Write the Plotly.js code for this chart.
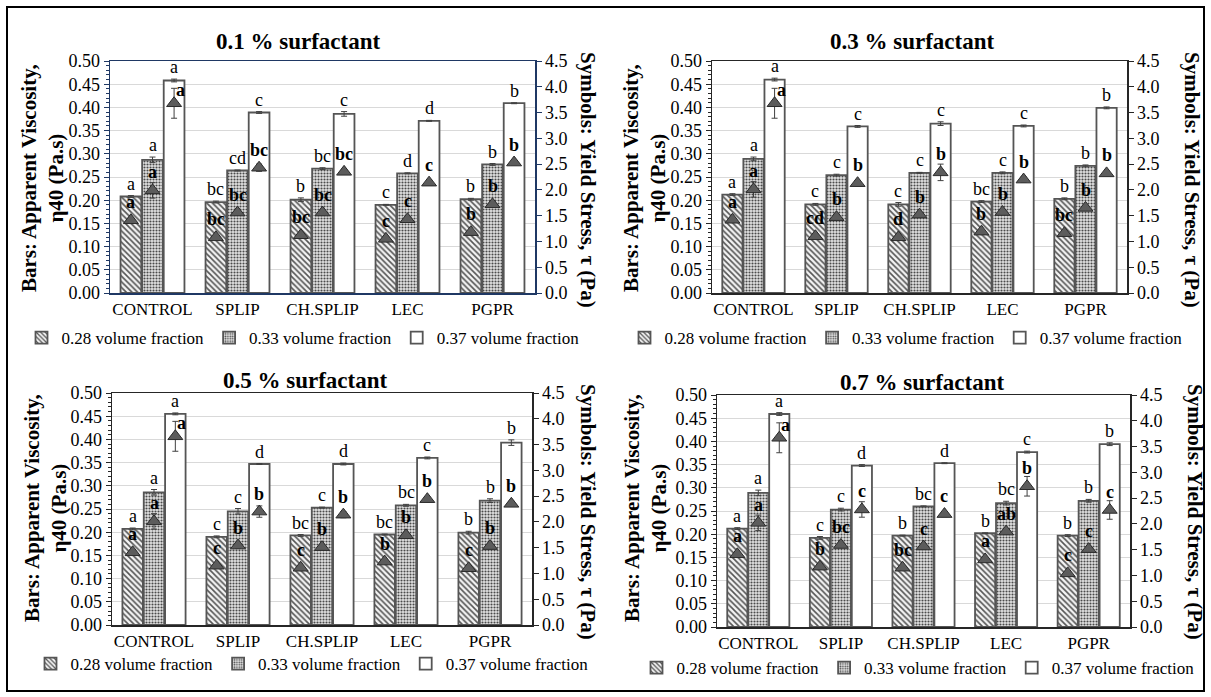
<!DOCTYPE html>
<html>
<head>
<meta charset="utf-8">
<script src="https://cdn.plot.ly/plotly-3.0.1.min.js"></script>
<style>html,body{margin:0;padding:0;background:#fff;}#chart{width:1211px;height:697px;}</style>
</head>
<body>
<div id="chart"></div>
<script>
// ---------------- DATA ----------------
const categories = ['CONTROL', 'SPLIP', 'CH.SPLIP', 'LEC', 'PGPR'];
const seriesNames = ['0.28 volume fraction', '0.33 volume fraction', '0.37 volume fraction'];
const panelTitles = ['0.1 % surfactant', '0.3 % surfactant', '0.5 % surfactant', '0.7 % surfactant'];

// Apparent viscosity (bars) per panel: rows = 0.28, 0.33, 0.37 volume fraction
const visc_01 = [[0.208, 0.196, 0.201, 0.190, 0.202], [0.287, 0.264, 0.268, 0.258, 0.277], [0.458, 0.389, 0.386, 0.371, 0.409]];
const visc_03 = [[0.212, 0.191, 0.191, 0.197, 0.203], [0.289, 0.254, 0.259, 0.259, 0.274], [0.460, 0.359, 0.365, 0.360, 0.399]];
const visc_05 = [[0.207, 0.190, 0.193, 0.195, 0.199], [0.286, 0.245, 0.253, 0.258, 0.268], [0.455, 0.347, 0.347, 0.360, 0.393]];
const visc_07 = [[0.212, 0.192, 0.197, 0.202, 0.197], [0.289, 0.253, 0.260, 0.267, 0.272], [0.459, 0.348, 0.353, 0.377, 0.394]];

const viscErr_01 = [[0.002, 0.002, 0.004, 0.001, 0.002], [0.006, 0.001, 0.002, 0.001, 0.002], [0.003, 0.002, 0.005, 0.001, 0.001]];
const viscErr_03 = [[0.002, 0.002, 0.004, 0.002, 0.002], [0.004, 0.002, 0.001, 0.002, 0.002], [0.003, 0.002, 0.004, 0.002, 0.002]];
const viscErr_05 = [[0.002, 0.002, 0.002, 0.001, 0.003], [0.006, 0.006, 0.001, 0.002, 0.004], [0.002, 0.001, 0.002, 0.002, 0.006]];
const viscErr_07 = [[0.002, 0.003, 0.001, 0.001, 0.002], [0.006, 0.003, 0.001, 0.004, 0.003], [0.003, 0.002, 0.001, 0.002, 0.003]];

// Yield stress (symbols)
const yield_01 = [[1.41, 1.08, 1.12, 1.05, 1.18], [1.99, 1.56, 1.56, 1.43, 1.72], [3.68, 2.43, 2.35, 2.14, 2.53]];
const yield_03 = [[1.42, 1.10, 1.08, 1.19, 1.16], [2.01, 1.47, 1.52, 1.57, 1.65], [3.68, 2.13, 2.34, 2.20, 2.32]];
const yield_05 = [[1.41, 1.15, 1.11, 1.23, 1.10], [2.01, 1.54, 1.51, 1.74, 1.53], [3.66, 2.20, 2.14, 2.44, 2.35]];
const yield_07 = [[1.41, 1.17, 1.15, 1.31, 1.04], [2.02, 1.59, 1.56, 1.85, 1.51], [3.67, 2.28, 2.19, 2.73, 2.27]];

const yieldErr_01 = [[0.05, 0.03, 0.04, 0.03, 0.03], [0.15, 0.05, 0.05, 0.04, 0.05], [0.29, 0.07, 0.05, 0.05, 0.04]];
const yieldErr_03 = [[0.04, 0.04, 0.04, 0.03, 0.03], [0.15, 0.05, 0.05, 0.05, 0.05], [0.29, 0.05, 0.16, 0.05, 0.04]];
const yieldErr_05 = [[0.04, 0.04, 0.04, 0.04, 0.03], [0.15, 0.05, 0.05, 0.06, 0.05], [0.29, 0.11, 0.06, 0.05, 0.05]];
const yieldErr_07 = [[0.04, 0.04, 0.04, 0.04, 0.04], [0.15, 0.05, 0.05, 0.05, 0.05], [0.29, 0.15, 0.05, 0.19, 0.18]];

// Significance letters (regular: above bars; bold: above symbols)
const barLetters_01 = [['a', 'bc', 'b', 'c', 'b'], ['a', 'cd', 'bc', 'd', 'b'], ['a', 'c', 'c', 'd', 'b']];
const barLetters_03 = [['a', 'c', 'c', 'bc', 'b'], ['a', 'c', 'c', 'c', 'b'], ['a', 'c', 'c', 'c', 'b']];
const barLetters_05 = [['a', 'c', 'bc', 'bc', 'b'], ['a', 'c', 'c', 'bc', 'b'], ['a', 'd', 'd', 'c', 'b']];
const barLetters_07 = [['a', 'c', 'b', 'b', 'b'], ['a', 'c', 'bc', 'bc', 'b'], ['a', 'd', 'd', 'c', 'b']];

const symLetters_01 = [['a', 'bc', 'bc', 'c', 'b'], ['a', 'bc', 'bc', 'c', 'b'], ['a', 'bc', 'bc', 'c', 'b']];
const symLetters_03 = [['a', 'cd', 'd', 'b', 'bc'], ['a', 'b', 'b', 'b', 'b'], ['a', 'b', 'b', 'b', 'b']];
const symLetters_05 = [['a', 'c', 'c', 'b', 'c'], ['a', 'b', 'b', 'b', 'b'], ['a', 'b', 'b', 'b', 'b']];
const symLetters_07 = [['a', 'b', 'bc', 'a', 'c'], ['a', 'bc', 'c', 'ab', 'c'], ['a', 'c', 'c', 'b', 'c']];

const leftTitle = 'Bars: Apparent Viscosity,<br>η40 (Pa.s)';
const rightTitle = 'Symbols: Yield Stress, τ (Pa)';

// ---------------- LAYOUT / STYLE ----------------
const W = 1211, H = 697;
const FONT = '"Liberation Serif", "Times New Roman", Times, serif';
const px = v => v / W;
const py = v => 1 - v / H;

const panels = [
  {visc: visc_01, vErr: viscErr_01, yv: yield_01, yErr: yieldErr_01, bl: barLetters_01, sl: symLetters_01,
   box: [110, 535, 61, 293], title: [298, 41], lt: [42, 178], rt: [588, 180], leg: [303, 338], line: '#1f3864'},
  {visc: visc_03, vErr: viscErr_03, yv: yield_03, yErr: yieldErr_03, bl: barLetters_03, sl: symLetters_03,
   box: [712, 1127, 61, 293], title: [912, 41], lt: [644, 178], rt: [1192, 180], leg: [906, 338], line: '#262626'},
  {visc: visc_05, vErr: viscErr_05, yv: yield_05, yErr: yieldErr_05, bl: barLetters_05, sl: symLetters_05,
   box: [112, 532, 393, 625], title: [305, 380], lt: [45, 508], rt: [588, 512], leg: [312, 664], line: '#262626'},
  {visc: visc_07, vErr: viscErr_07, yv: yield_07, yErr: yieldErr_07, bl: barLetters_07, sl: symLetters_07,
   box: [717, 1130, 395, 627], title: [922, 382], lt: [645, 508], rt: [1195, 512], leg: [918, 668], line: '#262626'}
];

const STEP = 0.254, BW = 0.244;
const idx = categories.map((c, i) => i);
const barMarkers = [
  {color: '#ffffff', pattern: {shape: '\\', fgcolor: '#555555', bgcolor: '#f4f4f4', size: 4, solidity: 0.4}},
  {color: '#ffffff', pattern: {shape: '.', fgcolor: '#4a4a4a', bgcolor: '#e2e2e2', size: 3, solidity: 0.4}},
  {color: '#ffffff'}
];

const traces = [];
const layout = {
  width: W, height: H, margin: {l: 0, r: 0, t: 0, b: 0},
  paper_bgcolor: '#ffffff', plot_bgcolor: '#ffffff',
  barmode: 'overlay', font: {family: FONT, color: '#000', size: 18},
  annotations: [], shapes: []
};

panels.forEach((P, p) => {
  const xa = p === 0 ? 'x' : 'x' + (p + 1);
  const yl = p === 0 ? 'y' : 'y' + (2 * p + 1);
  const yr = 'y' + (2 * p + 2);
  const xKey = p === 0 ? 'xaxis' : 'xaxis' + (p + 1);
  const ylKey = p === 0 ? 'yaxis' : 'yaxis' + (2 * p + 1);
  const yrKey = 'yaxis' + (2 * p + 2);
  const legKey = p === 0 ? 'legend' : 'legend' + (p + 1);
  const [bx0, bx1, byT, byB] = P.box;

  layout[xKey] = {
    domain: [px(bx0), px(bx1)], anchor: yl, range: [-0.5, 4.5],
    tickvals: idx, ticktext: categories, ticks: '', showgrid: false, zeroline: false,
    showline: true, mirror: true, linecolor: P.line, linewidth: 1.5,
    tickfont: {family: FONT, size: 17, color: '#000'}, fixedrange: true
  };
  layout[ylKey] = {
    domain: [py(byB), py(byT)], anchor: xa, range: [0, 0.5], dtick: 0.05, tickformat: '.2f',
    showgrid: true, gridcolor: '#d9d9d9', gridwidth: 1, zeroline: false,
    showline: true, linecolor: P.line, linewidth: 1.5, ticks: 'outside', ticklen: 5, tickcolor: P.line,
    minor: {dtick: 0.01, ticks: 'outside', ticklen: 3, tickcolor: P.line, showgrid: false},
    tickfont: {family: FONT, size: 18, color: '#000'}, fixedrange: true
  };
  layout[yrKey] = {
    overlaying: yl, side: 'right', anchor: xa, range: [0, 4.5], dtick: 0.5, tickformat: '.1f',
    showgrid: false, zeroline: false, showline: true, linecolor: P.line, linewidth: 1.5,
    ticks: 'outside', ticklen: 5, tickcolor: P.line,
    tickfont: {family: FONT, size: 18, color: '#000'}, fixedrange: true
  };
  layout[legKey] = {
    x: px(P.leg[0]), y: py(P.leg[1]), xanchor: 'center', yanchor: 'middle', xref: 'paper', yref: 'paper',
    orientation: 'h', font: {family: FONT, size: 17, color: '#000'}, bgcolor: 'rgba(0,0,0,0)',
    itemwidth: 30, traceorder: 'normal', itemclick: false, itemdoubleclick: false
  };

  // bars + regular letters above them
  for (let k = 0; k < 3; k++) {
    traces.push({
      type: 'bar', name: seriesNames[k], legend: legKey, showlegend: true,
      x: idx, y: P.visc[k], width: BW, offset: (k - 1) * STEP - BW / 2,
      xaxis: xa, yaxis: yl,
      marker: Object.assign({}, barMarkers[k], {line: {color: '#555555', width: 1.8}}),
      error_y: {type: 'data', array: P.vErr[k], visible: true, color: '#404040', thickness: 1, width: 3},
      hoverinfo: 'skip'
    });
    idx.forEach(i => {
      layout.annotations.push({
        text: P.bl[k][i], x: i + (k - 1) * STEP, y: P.visc[k][i] + P.vErr[k][i], xref: xa, yref: yl,
        xanchor: 'center', yanchor: 'bottom', yshift: 1, showarrow: false, borderpad: 0,
        font: {family: FONT, size: 18, color: '#000'}
      });
    });
  }
  // symbols (yield stress) + bold letters just above each symbol
  for (let k = 0; k < 3; k++) {
    const xs = idx.map(i => i + (k - 1) * STEP);
    traces.push({
      type: 'scatter', mode: 'markers', showlegend: false,
      x: xs, y: P.yv[k],
      marker: {symbol: 'triangle-up', size: 13, color: '#5c5c5c', line: {color: '#2a2a2a', width: 1}},
      error_y: {type: 'data', array: P.yErr[k], visible: true, color: '#404040', thickness: 1, width: 3},
      xaxis: xa, yaxis: yr, cliponaxis: false, hoverinfo: 'skip'
    });
    xs.forEach((xv, i) => {
      const wide = P.yErr[k][i] > 0.2;   // big error bar: letter sits to the right, as in the original
      layout.annotations.push({
        text: '<b>' + P.sl[k][i] + '</b>', x: xv, y: P.yv[k][i], xref: xa, yref: yr,
        xanchor: wide ? 'left' : 'center', yanchor: 'bottom', xshift: wide ? 1 : 0, yshift: wide ? 2 : 7,
        showarrow: false, borderpad: 0,
        font: {family: FONT, size: 18, color: '#000'}
      });
    });
  }

  layout.annotations.push(
    {text: '<b>' + panelTitles[p] + '</b>', x: px(P.title[0]), y: py(P.title[1]), xref: 'paper', yref: 'paper',
     xanchor: 'center', yanchor: 'middle', showarrow: false, font: {family: FONT, size: 23, color: '#000'}},
    {text: '<b>' + leftTitle + '</b>', x: px(P.lt[0]), y: py(P.lt[1]), xref: 'paper', yref: 'paper',
     xanchor: 'center', yanchor: 'middle', textangle: -90, showarrow: false,
     font: {family: FONT, size: 21, color: '#000'}},
    {text: '<b>' + rightTitle + '</b>', x: px(P.rt[0]), y: py(P.rt[1]), xref: 'paper', yref: 'paper',
     xanchor: 'center', yanchor: 'middle', textangle: 90, showarrow: false,
     font: {family: FONT, size: 21, color: '#000'}}
  );
});

layout.shapes.push({type: 'rect', xref: 'paper', yref: 'paper', x0: px(7), x1: px(1204), y0: py(691), y1: py(7),
  line: {color: '#000', width: 2}, fillcolor: 'rgba(0,0,0,0)'});

Plotly.newPlot('chart', traces, layout, {displayModeBar: false, staticPlot: true});
</script>
</body>
</html>
